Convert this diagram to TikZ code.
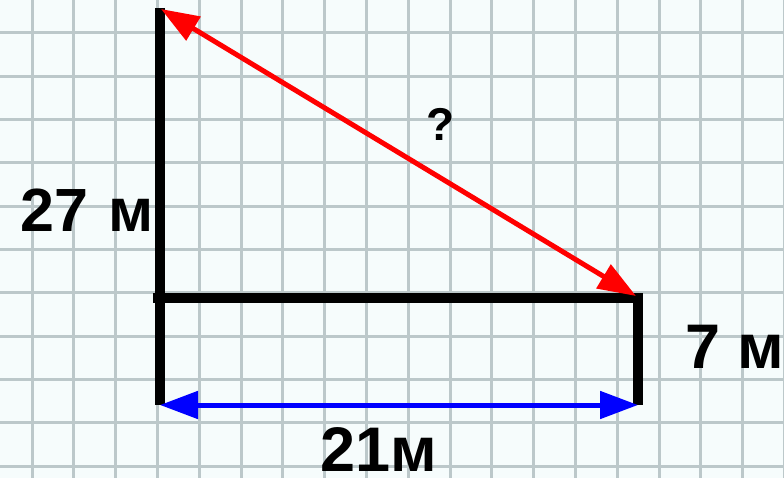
\documentclass[tikz,border=0pt]{standalone}
\usepackage{fontspec}
\setmainfont{Liberation Sans}
\usetikzlibrary{arrows.meta}
\definecolor{paper}{RGB}{246,252,252}
\definecolor{gridline}{RGB}{188,200,202}

\begin{document}
\begin{tikzpicture}[x=1pt, y=-1pt,
        wall/.style={line width=10pt},
        dim/.style={line width=5pt, {Triangle[length=38pt,width=27pt]}-{Triangle[length=38pt,width=27pt]}},
        lbl/.style={anchor=base west, inner sep=0pt, text depth=0pt, font=\bfseries\fontsize{60}{60}\selectfont}]
        \useasboundingbox (0,0) rectangle (784,478);
        \fill[paper] (0,0) rectangle (784,478);
        % squared paper
        \foreach \x in {0,...,18} \draw[gridline, line width=3pt] ({32+41.8*\x},0) -- ({32+41.8*\x},478);
        \foreach \y in {0,...,10} \draw[gridline, line width=3pt] (0,{33+43.3*\y}) -- (784,{33+43.3*\y});
        
        \coordinate (top) at (160,8);
        \coordinate (corner) at (160,298);
        \coordinate (foot) at (160,405);
        \coordinate (roof) at (638,298);
        \coordinate (rfoot) at (638,405);
        \coordinate (atop) at (161,9);
        \coordinate (aroof) at (636,296);
        
        \draw[wall] (top) -- (foot);
        \draw[wall] ([xshift=-7pt]corner) -- ([xshift=5pt]roof);
        \draw[wall] ([yshift=5pt]roof) -- (rfoot);
        
        \draw[dim, red] (atop) -- (aroof);
        \draw[dim, blue] (foot) -- (rfoot);
        
        \node[lbl, font=\bfseries\fontsize{61}{61}\selectfont] (tall) at (20,232) {27 \hspace{4pt}м};
        \node[lbl, font=\bfseries\fontsize{46}{46}\selectfont] (ask) at (426,141) {?};
        \node[lbl, font=\bfseries\fontsize{63}{63}\selectfont] (short) at (685,368) {7 м};
        \node[lbl, font=\bfseries\fontsize{63}{63}\selectfont] (gap) at (320,471) {21м};
    \end{tikzpicture}
\end{document}
